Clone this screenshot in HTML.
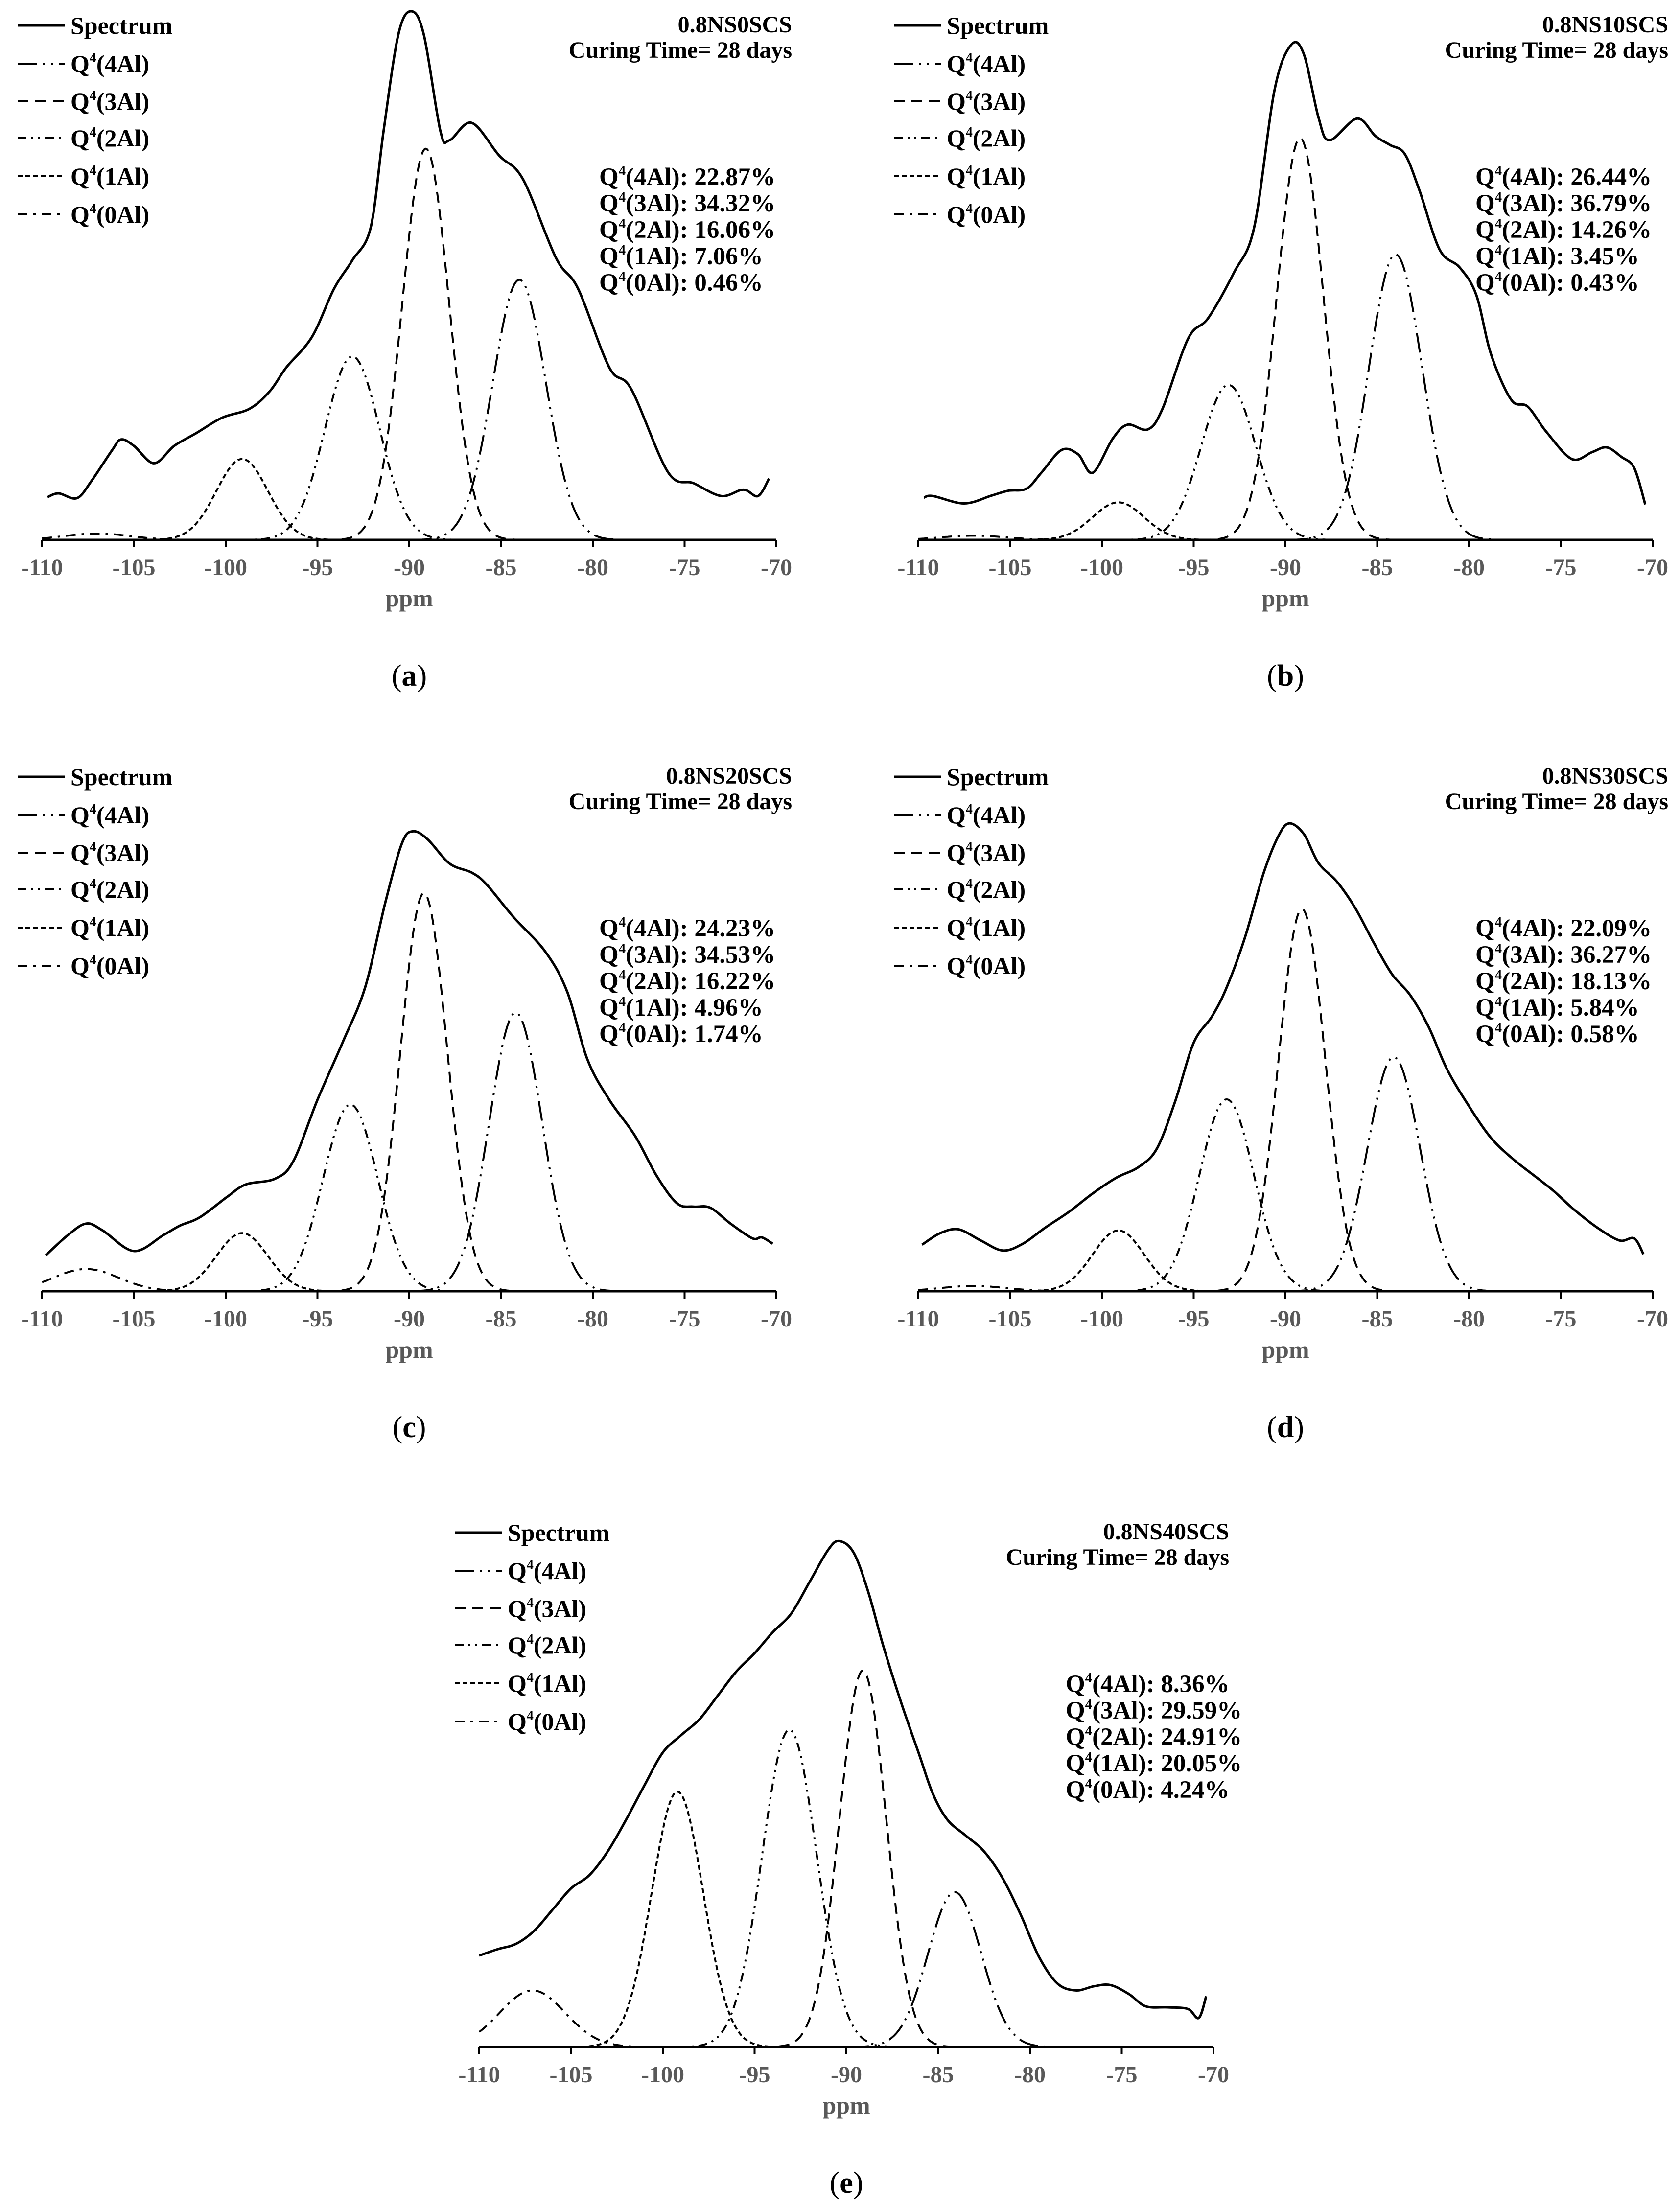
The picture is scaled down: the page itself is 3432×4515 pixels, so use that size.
<!DOCTYPE html>
<html><head><meta charset="utf-8"><style>
html,body{margin:0;padding:0;background:#fff;}
svg{display:block;}
text{font-family:"Liberation Serif","Times New Roman",serif;}
</style></head>
<body>
<svg id="fig" xmlns="http://www.w3.org/2000/svg" width="3432" height="4515" viewBox="0 0 3432 4515"></svg>
<script>
// ---------- DATA ----------
const tickLabels = [-110,-105,-100,-95,-90,-85,-80,-75,-70];
const compNames = ["Q4(4Al)","Q4(3Al)","Q4(2Al)","Q4(1Al)","Q4(0Al)"];

const sampleNames = ["0.8NS0SCS","0.8NS10SCS","0.8NS20SCS","0.8NS30SCS","0.8NS40SCS"];
const panelLetters = ["a","b","c","d","e"];

const pctA = ["22.87%","34.32%","16.06%","7.06%","0.46%"];
const pctB = ["26.44%","36.79%","14.26%","3.45%","0.43%"];
const pctC = ["24.23%","34.53%","16.22%","4.96%","1.74%"];
const pctD = ["22.09%","36.27%","18.13%","5.84%","0.58%"];
const pctE = ["8.36%","29.59%","24.91%","20.05%","4.24%"];

// spectrum (ppm, intensity)
const specPpmA = [-109.7,-109.1,-108.1,-107.3,-106.2,-105.7,-105,-103.9,-102.8,-101.6,-100.2,-98.7,-97.6,-96.7,-95.3,-94.1,-93.1,-92.1,-91.4,-90.6,-89.9,-89.2,-88.3,-87.8,-86.6,-85.1,-83.8,-82,-80.8,-79.1,-77.9,-75.9,-74.5,-73,-71.8,-71,-70.4];
const specIntA = [8.1,8.8,7.9,11.2,16.9,19,17.8,14.5,17.8,20.2,23.1,24.8,28.1,32.6,38.4,47.5,52.9,59.1,77.3,95.5,100,95.5,77.3,75.6,78.9,72.7,68.2,53.3,47.5,32.6,28.5,12.8,10.7,8.3,9.5,8.3,11.6];

const specPpmB = [-109.7,-109.2,-107.5,-106,-105.1,-104.1,-103.3,-102.2,-101.3,-100.5,-99.4,-98.6,-97.5,-96.7,-95.3,-94.2,-92.8,-91.7,-90.6,-89.7,-89,-88.2,-87.6,-86.1,-85.1,-84.3,-83.5,-82.7,-81.6,-80.5,-79.6,-78.8,-77.7,-76.8,-75.8,-74.4,-73.3,-72.5,-71.7,-71,-70.4];
const specIntB = [8,8.3,6.9,8.4,9.3,9.7,12.7,17,16.2,12.7,19.2,21.8,20.9,24.8,38.1,42,50.6,59.2,85,93.6,91.9,79.9,75.6,79.7,76.4,74.7,73,66.1,54.9,51.5,46.3,35.1,26.5,25.2,20.5,15.3,16.6,17.5,15.7,13.6,6.7];

const specPpmC = [-109.8,-108.6,-107.6,-106.7,-105,-103.4,-102.5,-101.4,-99.9,-98.9,-97.3,-96.3,-95,-93.6,-92.4,-91.3,-90.4,-89.8,-89,-87.8,-86.6,-85.8,-84.3,-82.6,-81.4,-80.3,-79.1,-77.7,-76.5,-75.4,-74.5,-73.6,-72.5,-71.3,-70.8,-70.2];
const specIntC = [6.8,10.6,12.8,11.5,7.6,10.6,12.4,14,17.9,20.2,21.3,24.7,36.2,47.3,57.5,73.6,84.7,87,85.5,80.9,79.2,77,70.7,64.3,56.7,43.9,36.2,29.4,21.7,16.6,16,15.8,12.8,10,10.2,9];

const specPpmD = [-109.8,-108.8,-107.8,-106.6,-105.4,-104.3,-103.1,-101.8,-100.5,-99.2,-98,-97,-96,-95,-94,-93.2,-92.2,-91.2,-90.4,-89.8,-89,-88.2,-87.2,-86.2,-85.2,-84.2,-83.2,-82.2,-81.2,-80,-78.8,-77.6,-76.5,-75.4,-74.3,-73,-71.8,-71,-70.5];
const specIntD = [8.8,11,11.7,9.6,7.7,9,12,15,18.5,21.5,23.5,27,36,47,52,57.5,67,79,86,88.5,86.5,81,77.5,72.5,66,60,56,50,42,35,29,25,22,19,15.5,12,9.6,10,7];

const specPpmE = [-110,-109,-108,-107,-106,-105,-104,-103,-102,-101,-100,-99,-98,-97,-96,-95,-94,-93,-92,-91,-90.4,-89.6,-88.8,-88,-87,-86,-85.3,-84.5,-83.5,-82.5,-81.5,-80.5,-79.5,-78.5,-77.5,-76.5,-75.6,-74.6,-73.7,-72.5,-71.4,-70.8,-70.4];
const specIntE = [17.3,18.5,19.5,22,26,30,32.5,37,43,49.5,55.7,59,62,66.5,71,74.5,78.5,82,88,94,95.7,93.5,86,76,65,55,48,43,40,37,32,25,17,12,10.7,11.5,11.7,10,7.7,7.5,7.2,5.5,9.6];

// fitted components: centres (ppm), peak heights, FWHM (ppm) in order 4Al,3Al,2Al,1Al,0Al
const compCenterA = [-84.0,-89.1,-93.1,-99.1,-107.0];
const compHeightA = [49.2,74.0,34.7,15.3,1.2];
const compCenterB = [-84.0,-89.2,-93.1,-99.1,-107.0];
const compHeightB = [54.0,76.0,29.3,7.1,0.8];
const compCenterC = [-84.2,-89.2,-93.2,-99.1,-107.6];
const compHeightC = [52.7,75.3,35.3,11.0,4.2];
const compCenterD = [-84.1,-89.1,-93.2,-99.1,-107.0];
const compHeightD = [44.3,72.3,36.3,11.5,1.0];
const compCenterE = [-84.1,-89.1,-93.1,-99.2,-107.1];
const compHeightE = [29.3,71.2,60.0,48.3,10.7];
const compFwhm = [3.4,3.0,3.5,3.3,4.2];

// ---------- LAYOUT ----------
const NS = "http://www.w3.org/2000/svg";
const svg = document.getElementById("fig");
const PX_PER_PPM = 1500/40;
const PX_PER_UNIT = 10.8;
const dashes = ["40 12 4 12 4 12","22 14","18 10 4 10 4 10","10 6","20 12 5 12"];

function mk(tag, attrs, parent){
  const e = document.createElementNS(NS, tag);
  for (const k in attrs) e.setAttribute(k, attrs[k]);
  parent.appendChild(e);
  return e;
}
function smoothPath(pts){
  let d = "M" + pts[0][0].toFixed(1) + "," + pts[0][1].toFixed(1);
  for (let i=0;i<pts.length-1;i++){
    const p0 = pts[Math.max(0,i-1)], p1 = pts[i], p2 = pts[i+1], p3 = pts[Math.min(pts.length-1,i+2)];
    const c1x = p1[0]+(p2[0]-p0[0])/6, c1y = p1[1]+(p2[1]-p0[1])/6;
    const c2x = p2[0]-(p3[0]-p1[0])/6, c2y = p2[1]-(p3[1]-p1[1])/6;
    d += " C"+c1x.toFixed(1)+","+c1y.toFixed(1)+" "+c2x.toFixed(1)+","+c2y.toFixed(1)+" "+p2[0].toFixed(1)+","+p2[1].toFixed(1);
  }
  return d;
}

function drawPanel(idx, x0, axisY, ppmArr, intArr, centers, heights, pcts){
  const xS = p => x0 + (p + 110) * PX_PER_PPM;
  const yS = v => axisY - v * PX_PER_UNIT;
  const g = mk("g", {}, svg);
  
  

  for (let c=0;c<centers.length;c++){
    const sig = compFwhm[c] / 2.3548;
    const pts = [];
    for (let p=-110; p<=-70.001; p+=0.1){
      const v = heights[c] * Math.exp(-0.5*Math.pow((p-centers[c])/sig,2));
      pts.push([xS(p), yS(v)]);
    }
    const path = mk("path", {d: smoothPath(pts), fill:"none", stroke:"#000", "stroke-width":4, "stroke-dasharray":dashes[c]}, g);
    
    
  }
  const sp = [];
  for (let i=0;i<ppmArr.length;i++) sp.push([xS(ppmArr[i]), yS(intArr[i])]);
  const spec = mk("path", {d: smoothPath(sp), fill:"none", stroke:"#000", "stroke-width":5, "stroke-linejoin":"round"}, g);
  
  

  const ax = mk("line", {x1:xS(-110), x2:xS(-70), y1:axisY, y2:axisY, stroke:"#000", "stroke-width":5}, g);
  
  
  for (const t of tickLabels){
    const tk = mk("line", {x1:xS(t), x2:xS(t), y1:axisY, y2:axisY+15, stroke:"#000", "stroke-width":4}, g);
    
    
    const tl = mk("text", {x:xS(t), y:axisY+72, "text-anchor":"middle", "font-size":48, "font-weight":"bold", fill:"#595959"}, g);
    tl.textContent = String(t);
    
    
  }
  const xt = mk("text", {x:xS(-90), y:axisY+136, "text-anchor":"middle", "font-size":50, "font-weight":"bold", fill:"#595959"}, g);
  xt.textContent = "ppm";
  
  

  const legDash = ["none"].concat(dashes);
  const legLabels = ["Spectrum"].concat(compNames);
  const rowsY = [-1051,-973,-896,-821,-743,-665];
  for (let r=0;r<6;r++){
    const ly = axisY + rowsY[r];
    const ln = mk("line", {x1:x0-50, x2:x0+47, y1:ly, y2:ly, stroke:"#000", "stroke-width": r===0?5:4}, g);
    if (r>0) ln.setAttribute("stroke-dasharray", legDash[r]);
    
    
    const lt = mk("text", {x:x0+58, y:ly+17, "font-size":50, "font-weight":"bold", fill:"#000"}, g);
    if (r===0){ lt.textContent = "Spectrum"; }
    else {
      const lab = legLabels[r];
      const t1 = mk("tspan", {}, lt); t1.textContent = "Q";
      const t2 = mk("tspan", {"font-size":28, dy:-20}, lt); t2.textContent = "4";
      const t3 = mk("tspan", {dy:20}, lt); t3.textContent = lab.slice(2);
    }
    
    
  }

  const right = x0 + 1532;
  const t1 = mk("text", {x:right, y:axisY-1037, "text-anchor":"end", "font-size":48, "font-weight":"bold"}, g);
  t1.textContent = sampleNames[idx];
  
  
  const t2 = mk("text", {x:right, y:axisY-985, "text-anchor":"end", "font-size":48, "font-weight":"bold"}, g);
  t2.textContent = "Curing Time= 28 days";
  
  

  const pY = [-743,-689,-635,-581,-527];
  const leftX = idx === 4 ? x0 + 1198 : x0 + 1138;
  for (let r=0;r<5;r++){
    const pt = mk("text", {x:leftX, y:axisY+pY[r]+18, "font-size":51, "font-weight":"bold"}, g);
    const a = mk("tspan", {}, pt); a.textContent = "Q";
    const b = mk("tspan", {"font-size":29, dy:-20}, pt); b.textContent = "4";
    const c = mk("tspan", {dy:20}, pt); c.textContent = compNames[r].slice(2) + ": " + pcts[r];
    
    
  }

  const pl = mk("text", {x:xS(-90), y:axisY+298, "text-anchor":"middle", "font-size":62}, g);
  const o = mk("tspan", {}, pl); o.textContent = "(";
  const m = mk("tspan", {"font-weight":"bold"}, pl); m.textContent = panelLetters[idx];
  const cl = mk("tspan", {}, pl); cl.textContent = ")";
  
  
}

drawPanel(0, 86, 1103, specPpmA, specIntA, compCenterA, compHeightA, pctA);
drawPanel(1, 1876, 1103, specPpmB, specIntB, compCenterB, compHeightB, pctB);
drawPanel(2, 86, 2638, specPpmC, specIntC, compCenterC, compHeightC, pctC);
drawPanel(3, 1876, 2638, specPpmD, specIntD, compCenterD, compHeightD, pctD);
drawPanel(4, 979, 4182, specPpmE, specIntE, compCenterE, compHeightE, pctE);
</script>
</body></html>
